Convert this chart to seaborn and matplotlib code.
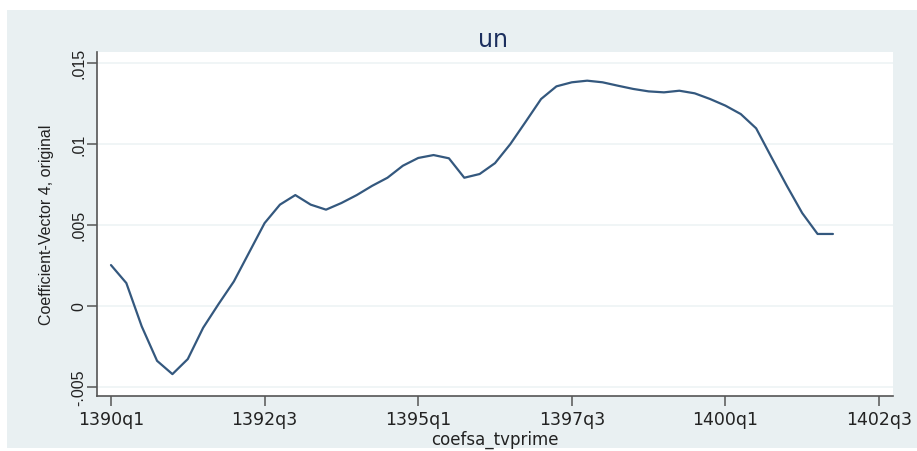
import matplotlib
matplotlib.use("Agg")
import matplotlib.pyplot as plt
import seaborn as sns
import pandas as pd
from matplotlib.patches import Rectangle

# ---- data ----
period_index = list(range(48))  # quarters since 1390q1
coef_values = [
    0.00251, 0.00140, -0.00127, -0.00340, -0.00422, -0.00329, -0.00136, 0.00010,
    0.00150, 0.00330, 0.00510, 0.00624, 0.00683, 0.00624, 0.00593, 0.00634,
    0.00683, 0.00740, 0.00790, 0.00864, 0.00912, 0.00930, 0.00910, 0.00790,
    0.00813, 0.00880, 0.00998, 0.01136, 0.01276, 0.01354, 0.01379, 0.01389,
    0.01379, 0.01358, 0.01338, 0.01323, 0.01317, 0.01327, 0.01311, 0.01276,
    0.01235, 0.01183, 0.01095, 0.00916, 0.00740, 0.00572, 0.00443, 0.00443,
]
x_tick_pos = [0, 10, 20, 30, 40, 50]
x_tick_labels = ["1390q1", "1392q3", "1395q1", "1397q3", "1400q1", "1402q3"]
y_tick_pos = [-0.005, 0.0, 0.005, 0.01, 0.015]
y_tick_labels = ["-.005", "0", ".005", ".01", ".015"]

df = pd.DataFrame({"t": period_index, "coef": coef_values})

sns.set_theme(style="white")
plt.rcParams["font.family"] = ["DejaVu Sans"]

fig = plt.figure(figsize=(9.17, 4.52), dpi=100)
fig.patch.set_facecolor("white")
fig.patches.append(Rectangle((7 / 917, 3 / 452), 910 / 917, 438 / 452,
                             transform=fig.transFigure, facecolor="#e9f0f2",
                             edgecolor="none", zorder=-10))

ax = fig.add_axes([97 / 917, 1 - 397 / 452, 796 / 917, 344 / 452])
ax.set_zorder(5)
ax.set_facecolor("white")

sns.lineplot(data=df, x="t", y="coef", ax=ax, color="#34587e", linewidth=1.6)

ax.set_xlim(-0.91, 50.91)
ax.set_ylim(-0.00557, 0.01566)

ax.set_xticks(x_tick_pos)
ax.set_xticklabels(x_tick_labels, fontsize=12.5, color="#222222")
ax.set_yticks(y_tick_pos)
ax.set_yticklabels(y_tick_labels, fontsize=11.5, color="#222222",
                   rotation=90, va="center", family="Liberation Sans")

for y in y_tick_pos:
    ax.axhline(y, color="#edf3f5", linewidth=1.2, zorder=0)

for side in ["top", "right"]:
    ax.spines[side].set_visible(False)
for side in ["left", "bottom"]:
    ax.spines[side].set_color("#555555")
    ax.spines[side].set_linewidth(1.2)

ax.tick_params(axis="both", which="major", direction="out", length=7,
               width=1.1, color="#555555", left=True, bottom=True)
ax.tick_params(axis="x", pad=3)
ax.tick_params(axis="y", pad=0.5)

ax.set_xlabel("coefsa_tvprime", fontsize=12, color="#222222", labelpad=1.5)
ax.set_ylabel("Coefficient-Vector 4, original", fontsize=11.5, color="#222222",
              family="Liberation Sans", labelpad=13)

fig.text(493 / 917, 1 - 40 / 452, "un", ha="center", va="center",
         fontsize=17, color="#1c2f5e", zorder=6)

fig.savefig("out.png", dpi=100)
